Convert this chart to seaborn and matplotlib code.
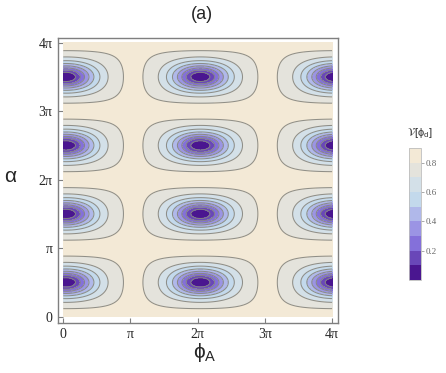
import numpy as np
import matplotlib
matplotlib.use("Agg")
import matplotlib.pyplot as plt
import seaborn as sns

# Ejes (en unidades de pi)
tick_pos = [0, 1, 2, 3, 4]
tick_labels = ['0', 'π', '2π', '3π', '4π']

# Niveles de contorno y colores de las bandas (de abajo hacia arriba)
levels = [0.0, 0.1, 0.2, 0.3, 0.4, 0.5, 0.6, 0.7, 0.8, 0.9]
band_colors = ['#4a1690', '#6947b8', '#8470da', '#9b94e4', '#b0b8ea',
               '#c3d9ec', '#d3e0e8', '#e4e3dc', '#f3e9d6']
cbar_ticks = [0.2, 0.4, 0.6, 0.8]

# Parametros
v_max = 0.84       # valor de la meseta sobre los minimos
v_drop = 0.021     # caida de la meseta entre columnas
k_sat = 0.659      # forma de las curvas de nivel
p_phi = 1.8        # exponente del factor en phi_A
phi_shift = 0.04   # desplazamiento de los minimos en phi_A (unidades de pi)

sns.set_style('ticks')
plt.rcParams['font.family'] = ['Liberation Sans', 'DejaVu Sans']
plt.rcParams['mathtext.default'] = 'regular'

# Campo V[phi_d] sobre la malla (phi_A, alpha)
phi = np.linspace(0, 4 * np.pi, 700)
alpha = np.linspace(0, 4 * np.pi, 700)
PHI, ALPHA = np.meshgrid(phi, alpha)
u = (PHI - phi_shift * np.pi) / 2
P = np.abs(np.cos(u)) ** p_phi * np.sin(ALPHA) ** 2
plateau = v_max - v_drop * np.sin(u) ** 2
V = plateau * (1 - P) / (1 - k_sat * P)

fig = plt.figure(figsize=(4.46, 3.73), dpi=100)
ax = fig.add_axes([0.130, 0.135, 0.628, 0.764])

pal = sns.color_palette(band_colors)
cf = ax.contourf(PHI, ALPHA, V, levels=levels, colors=pal)
ax.contour(PHI, ALPHA, V, levels=levels[1:-1], colors='#85857f',
           linewidths=0.75, alpha=0.9)

ax.set_xlim(-0.079 * np.pi, 4.089 * np.pi)
ax.set_ylim(-0.088 * np.pi, 4.073 * np.pi)
ax.set_xticks([t * np.pi for t in tick_pos])
ax.set_yticks([t * np.pi for t in tick_pos])
ax.set_xticklabels(tick_labels, family='Liberation Serif')
ax.set_yticklabels(tick_labels, family='Liberation Serif')
ax.tick_params(direction='in', length=3.5, width=0.8, color='#7f7f7f',
               labelsize=10, pad=4, top=False, right=False)
for sp in ax.spines.values():
    sp.set_color('#7f7f7f')
    sp.set_linewidth(1.0)

# Barra de color
cax = fig.add_axes([0.917, 0.249, 0.027, 0.354])
cb = fig.colorbar(cf, cax=cax, ticks=cbar_ticks)
cb.outline.set_edgecolor('#bdbdbd')
cb.outline.set_linewidth(0.6)
cax.tick_params(labelsize=6.5, length=2, width=0.5, color='#888888',
                labelcolor='#666666', pad=1.5)
for lab in cax.get_yticklabels():
    lab.set_family('Liberation Serif')

fig.text(0.942, 0.643, r'$\mathcal{V}[\phi_d]$', ha='center', va='center',
         fontsize=8, color='#333333')

# Titulo y etiquetas
fig.text(0.453, 0.96, '(a)', ha='center', va='center', fontsize=13)
fig.text(0.025, 0.528, r'$\alpha$', ha='center', va='center', fontsize=15)
fig.text(0.46, 0.056, r'$\phi_A$', ha='center', va='center', fontsize=15)

fig.savefig('out.png', dpi=100)
